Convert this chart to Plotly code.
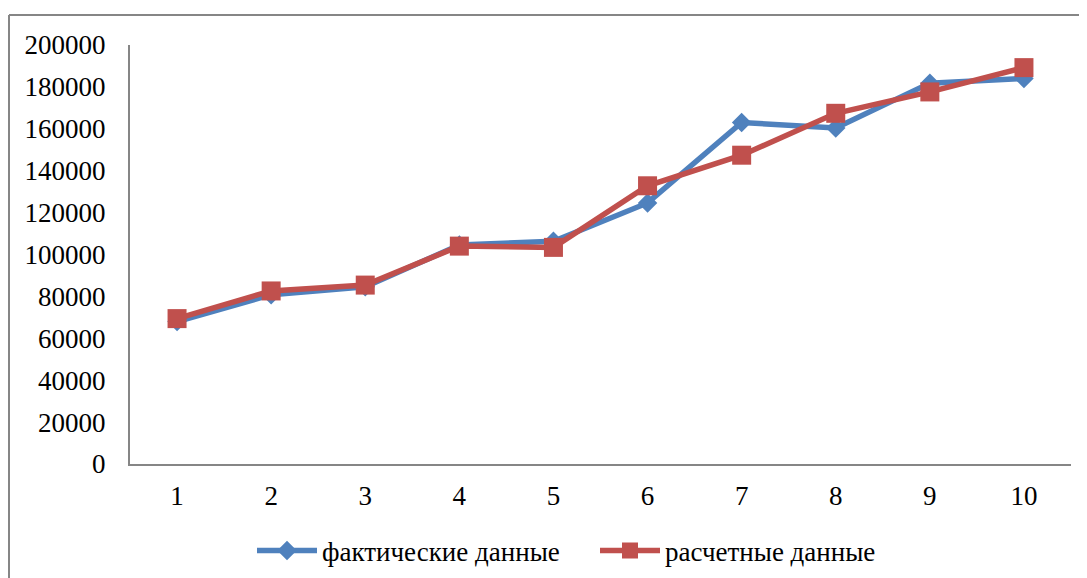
import plotly.graph_objects as go

categories = [1, 2, 3, 4, 5, 6, 7, 8, 9, 10]
actual = [68000, 80800, 84600, 104500, 106300, 124600, 163000, 160400, 181800, 184000]
estimated = [69400, 82600, 85400, 104000, 103400, 132800, 147400, 167400, 177600, 189200]
series_names = ["фактические данные", "расчетные данные"]
y_ticks = list(range(0, 200001, 20000))

# page body has an 8px margin, so figure coordinates = screen - 8
OFF = 8
W, H = 1087 - OFF, 578 - OFF
L, T = 130 - OFF, 45 - OFF
R = W - (1071 - OFF)
B = H - (464 - OFF)
pw, ph = W - L - R, H - T - B


def px_x(sx):
    return (sx - OFF - L) / pw


def px_y(sy):
    return (T + ph - (sy - OFF)) / ph


fig = go.Figure()
fig.add_trace(go.Scatter(
    x=categories, y=actual, name=series_names[0], mode="lines+markers",
    line=dict(color="#4F81BD", width=5.5),
    marker=dict(symbol="diamond", size=15, color="#4F81BD"),
))
fig.add_trace(go.Scatter(
    x=categories, y=estimated, name=series_names[1], mode="lines+markers",
    line=dict(color="#C0504D", width=5.5),
    marker=dict(symbol="square", size=19, color="#C0504D"),
))

font_family = "Liberation Serif, Times New Roman, serif"

fig.update_layout(
    width=W, height=H,
    margin=dict(l=L, r=R, t=T, b=B, autoexpand=False),
    paper_bgcolor="white", plot_bgcolor="white",
    font=dict(family=font_family, size=27, color="black"),
    showlegend=True,
    legend=dict(
        orientation="h", x=px_x(595), xanchor="center",
        y=px_y(551), yanchor="middle",
        font=dict(family=font_family, size=27, color="black"),
        itemwidth=60, tracegroupgap=0, traceorder="normal",
        entrywidth=268, entrywidthmode="pixels",
        bgcolor="rgba(0,0,0,0)",
    ),
    xaxis=dict(
        range=[0.5, 10.5], tickmode="array", tickvals=categories,
        ticktext=[str(c) for c in categories],
        showgrid=False, zeroline=False, showline=True,
        linecolor="#868686", linewidth=2, ticks="",
        ticklabelstandoff=7,
        tickfont=dict(family=font_family, size=27, color="black"),
    ),
    yaxis=dict(
        range=[0, 200000], tickmode="array", tickvals=y_ticks,
        ticktext=[str(v) for v in y_ticks],
        showgrid=False, zeroline=False, showline=True,
        linecolor="#868686", linewidth=2, ticks="",
        ticklabelstandoff=17,
        tickfont=dict(family=font_family, size=27, color="black"),
    ),
    shapes=[
        dict(type="line", xref="paper", yref="paper",
             x0=px_x(9), x1=px_x(9), y0=px_y(15), y1=px_y(620),
             line=dict(color="#868686", width=2)),
        dict(type="line", xref="paper", yref="paper",
             x0=px_x(9), x1=px_x(1120), y0=px_y(15), y1=px_y(15),
             line=dict(color="#868686", width=2)),
    ],
)

fig.write_html("out.html")
